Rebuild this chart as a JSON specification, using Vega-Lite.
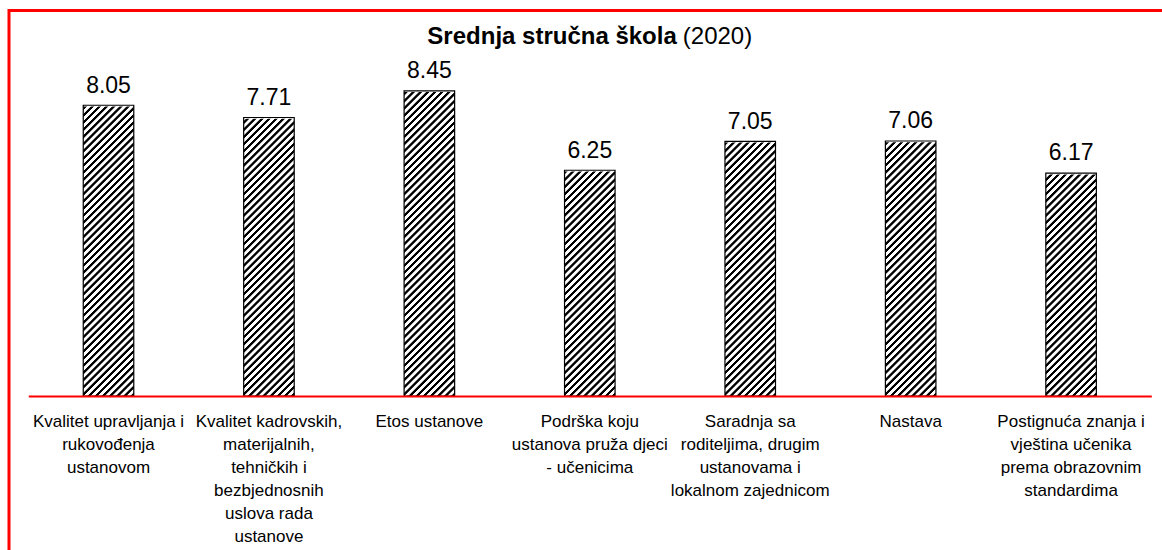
{
  "$schema": "https://vega.github.io/schema/vega-lite/v6.json",
  "autosize": "none",
  "padding": {"left": 9, "top": 10.5, "right": -12, "bottom": -8.5},
  "width": 1165,
  "height": 548,
  "background": "white",
  "config": {
    "font": "Liberation Sans",
    "view": {"stroke": "#ff0000", "strokeWidth": 3, "fill": "white"}
  },
  "data": {
    "values": [
      {"kriterij": "Kvalitet upravljanja i\nrukovođenja\nustanovom", "vrijednost": 8.05},
      {"kriterij": "Kvalitet kadrovskih,\nmaterijalnih,\ntehničkih i\nbezbjednosnih\nuslova rada\nustanove", "vrijednost": 7.71},
      {"kriterij": "Etos ustanove", "vrijednost": 8.45},
      {"kriterij": "Podrška koju\nustanova pruža djeci\n- učenicima", "vrijednost": 6.25},
      {"kriterij": "Saradnja sa\nroditeljima, drugim\nustanovama i\nlokalnom zajednicom", "vrijednost": 7.05},
      {"kriterij": "Nastava", "vrijednost": 7.06},
      {"kriterij": "Postignuća znanja i\nvještina učenika\nprema obrazovnim\nstandardima", "vrijednost": 6.17}
    ]
  },
  "encoding": {
    "x": {
      "field": "kriterij",
      "type": "nominal",
      "sort": null,
      "scale": {"range": [19.3, 1142.3], "paddingInner": 0.685, "paddingOuter": 0.3425},
      "axis": {
        "title": null,
        "domain": true,
        "domainColor": "#ff0000",
        "domainWidth": 2,
        "ticks": false,
        "tickSize": 0,
        "labelPadding": 17,
        "labelFont": "Liberation Sans",
        "labelFontSize": 17,
        "labelColor": "#000000",
        "labelLineHeight": 23,
        "labelAngle": 0,
        "labelAlign": "center",
        "labelBaseline": "top",
        "labelLimit": 400,
        "labelOverlap": false,
        "labelExpr": "split(datum.label, '\\n')",
        "offset": -162.5,
        "zindex": 1,
        "grid": false
      }
    }
  },
  "layer": [
    {
      "mark": {
        "type": "bar",
        "strokeWidth": 0,
        "fill": {
          "gradient": "linear",
          "x1": 0, "y1": 0, "x2": 0.18651, "y2": 1.13381,
          "stops": [
            {"offset": 0, "color": "#fff"}, {"offset": 0.009, "color": "#fff"}, {"offset": 0.011, "color": "#000"}, {"offset": 0.018, "color": "#000"},
            {"offset": 0.02, "color": "#fff"}, {"offset": 0.029, "color": "#fff"}, {"offset": 0.031, "color": "#000"}, {"offset": 0.038, "color": "#000"},
            {"offset": 0.04, "color": "#fff"}, {"offset": 0.049, "color": "#fff"}, {"offset": 0.051, "color": "#000"}, {"offset": 0.058, "color": "#000"},
            {"offset": 0.06, "color": "#fff"}, {"offset": 0.069, "color": "#fff"}, {"offset": 0.071, "color": "#000"}, {"offset": 0.078, "color": "#000"},
            {"offset": 0.08, "color": "#fff"}, {"offset": 0.089, "color": "#fff"}, {"offset": 0.091, "color": "#000"}, {"offset": 0.098, "color": "#000"},
            {"offset": 0.1, "color": "#fff"}, {"offset": 0.109, "color": "#fff"}, {"offset": 0.111, "color": "#000"}, {"offset": 0.118, "color": "#000"},
            {"offset": 0.12, "color": "#fff"}, {"offset": 0.129, "color": "#fff"}, {"offset": 0.131, "color": "#000"}, {"offset": 0.138, "color": "#000"},
            {"offset": 0.14, "color": "#fff"}, {"offset": 0.149, "color": "#fff"}, {"offset": 0.151, "color": "#000"}, {"offset": 0.158, "color": "#000"},
            {"offset": 0.16, "color": "#fff"}, {"offset": 0.169, "color": "#fff"}, {"offset": 0.171, "color": "#000"}, {"offset": 0.178, "color": "#000"},
            {"offset": 0.18, "color": "#fff"}, {"offset": 0.189, "color": "#fff"}, {"offset": 0.191, "color": "#000"}, {"offset": 0.198, "color": "#000"},
            {"offset": 0.2, "color": "#fff"}, {"offset": 0.209, "color": "#fff"}, {"offset": 0.211, "color": "#000"}, {"offset": 0.218, "color": "#000"},
            {"offset": 0.22, "color": "#fff"}, {"offset": 0.229, "color": "#fff"}, {"offset": 0.231, "color": "#000"}, {"offset": 0.238, "color": "#000"},
            {"offset": 0.24, "color": "#fff"}, {"offset": 0.249, "color": "#fff"}, {"offset": 0.251, "color": "#000"}, {"offset": 0.258, "color": "#000"},
            {"offset": 0.26, "color": "#fff"}, {"offset": 0.269, "color": "#fff"}, {"offset": 0.271, "color": "#000"}, {"offset": 0.278, "color": "#000"},
            {"offset": 0.28, "color": "#fff"}, {"offset": 0.289, "color": "#fff"}, {"offset": 0.291, "color": "#000"}, {"offset": 0.298, "color": "#000"},
            {"offset": 0.3, "color": "#fff"}, {"offset": 0.309, "color": "#fff"}, {"offset": 0.311, "color": "#000"}, {"offset": 0.318, "color": "#000"},
            {"offset": 0.32, "color": "#fff"}, {"offset": 0.329, "color": "#fff"}, {"offset": 0.331, "color": "#000"}, {"offset": 0.338, "color": "#000"},
            {"offset": 0.34, "color": "#fff"}, {"offset": 0.349, "color": "#fff"}, {"offset": 0.351, "color": "#000"}, {"offset": 0.358, "color": "#000"},
            {"offset": 0.36, "color": "#fff"}, {"offset": 0.369, "color": "#fff"}, {"offset": 0.371, "color": "#000"}, {"offset": 0.378, "color": "#000"},
            {"offset": 0.38, "color": "#fff"}, {"offset": 0.389, "color": "#fff"}, {"offset": 0.391, "color": "#000"}, {"offset": 0.398, "color": "#000"},
            {"offset": 0.4, "color": "#fff"}, {"offset": 0.409, "color": "#fff"}, {"offset": 0.411, "color": "#000"}, {"offset": 0.418, "color": "#000"},
            {"offset": 0.42, "color": "#fff"}, {"offset": 0.429, "color": "#fff"}, {"offset": 0.431, "color": "#000"}, {"offset": 0.438, "color": "#000"},
            {"offset": 0.44, "color": "#fff"}, {"offset": 0.449, "color": "#fff"}, {"offset": 0.451, "color": "#000"}, {"offset": 0.458, "color": "#000"},
            {"offset": 0.46, "color": "#fff"}, {"offset": 0.469, "color": "#fff"}, {"offset": 0.471, "color": "#000"}, {"offset": 0.478, "color": "#000"},
            {"offset": 0.48, "color": "#fff"}, {"offset": 0.489, "color": "#fff"}, {"offset": 0.491, "color": "#000"}, {"offset": 0.498, "color": "#000"},
            {"offset": 0.5, "color": "#fff"}, {"offset": 0.509, "color": "#fff"}, {"offset": 0.511, "color": "#000"}, {"offset": 0.518, "color": "#000"},
            {"offset": 0.52, "color": "#fff"}, {"offset": 0.529, "color": "#fff"}, {"offset": 0.531, "color": "#000"}, {"offset": 0.538, "color": "#000"},
            {"offset": 0.54, "color": "#fff"}, {"offset": 0.549, "color": "#fff"}, {"offset": 0.551, "color": "#000"}, {"offset": 0.558, "color": "#000"},
            {"offset": 0.56, "color": "#fff"}, {"offset": 0.569, "color": "#fff"}, {"offset": 0.571, "color": "#000"}, {"offset": 0.578, "color": "#000"},
            {"offset": 0.58, "color": "#fff"}, {"offset": 0.589, "color": "#fff"}, {"offset": 0.591, "color": "#000"}, {"offset": 0.598, "color": "#000"},
            {"offset": 0.6, "color": "#fff"}, {"offset": 0.609, "color": "#fff"}, {"offset": 0.611, "color": "#000"}, {"offset": 0.618, "color": "#000"},
            {"offset": 0.62, "color": "#fff"}, {"offset": 0.629, "color": "#fff"}, {"offset": 0.631, "color": "#000"}, {"offset": 0.638, "color": "#000"},
            {"offset": 0.64, "color": "#fff"}, {"offset": 0.649, "color": "#fff"}, {"offset": 0.651, "color": "#000"}, {"offset": 0.658, "color": "#000"},
            {"offset": 0.66, "color": "#fff"}, {"offset": 0.669, "color": "#fff"}, {"offset": 0.671, "color": "#000"}, {"offset": 0.678, "color": "#000"},
            {"offset": 0.68, "color": "#fff"}, {"offset": 0.689, "color": "#fff"}, {"offset": 0.691, "color": "#000"}, {"offset": 0.698, "color": "#000"},
            {"offset": 0.7, "color": "#fff"}, {"offset": 0.709, "color": "#fff"}, {"offset": 0.711, "color": "#000"}, {"offset": 0.718, "color": "#000"},
            {"offset": 0.72, "color": "#fff"}, {"offset": 0.729, "color": "#fff"}, {"offset": 0.731, "color": "#000"}, {"offset": 0.738, "color": "#000"},
            {"offset": 0.74, "color": "#fff"}, {"offset": 0.749, "color": "#fff"}, {"offset": 0.751, "color": "#000"}, {"offset": 0.758, "color": "#000"},
            {"offset": 0.76, "color": "#fff"}, {"offset": 0.769, "color": "#fff"}, {"offset": 0.771, "color": "#000"}, {"offset": 0.778, "color": "#000"},
            {"offset": 0.78, "color": "#fff"}, {"offset": 0.789, "color": "#fff"}, {"offset": 0.791, "color": "#000"}, {"offset": 0.798, "color": "#000"},
            {"offset": 0.8, "color": "#fff"}, {"offset": 0.809, "color": "#fff"}, {"offset": 0.811, "color": "#000"}, {"offset": 0.818, "color": "#000"},
            {"offset": 0.82, "color": "#fff"}, {"offset": 0.829, "color": "#fff"}, {"offset": 0.831, "color": "#000"}, {"offset": 0.838, "color": "#000"},
            {"offset": 0.84, "color": "#fff"}, {"offset": 0.849, "color": "#fff"}, {"offset": 0.851, "color": "#000"}, {"offset": 0.858, "color": "#000"},
            {"offset": 0.86, "color": "#fff"}, {"offset": 0.869, "color": "#fff"}, {"offset": 0.871, "color": "#000"}, {"offset": 0.878, "color": "#000"},
            {"offset": 0.88, "color": "#fff"}, {"offset": 0.889, "color": "#fff"}, {"offset": 0.891, "color": "#000"}, {"offset": 0.898, "color": "#000"},
            {"offset": 0.9, "color": "#fff"}, {"offset": 0.909, "color": "#fff"}, {"offset": 0.911, "color": "#000"}, {"offset": 0.918, "color": "#000"},
            {"offset": 0.92, "color": "#fff"}, {"offset": 0.929, "color": "#fff"}, {"offset": 0.931, "color": "#000"}, {"offset": 0.938, "color": "#000"},
            {"offset": 0.94, "color": "#fff"}, {"offset": 0.949, "color": "#fff"}, {"offset": 0.951, "color": "#000"}, {"offset": 0.958, "color": "#000"},
            {"offset": 0.96, "color": "#fff"}, {"offset": 0.969, "color": "#fff"}, {"offset": 0.971, "color": "#000"}, {"offset": 0.978, "color": "#000"},
            {"offset": 0.98, "color": "#fff"}, {"offset": 0.989, "color": "#fff"}, {"offset": 0.991, "color": "#000"}, {"offset": 0.998, "color": "#000"},
            {"offset": 1, "color": "#fff"}
          ]
        }
      },
      "encoding": {
        "y": {"datum": 8.5, "type": "quantitative", "scale": {"domain": [-4.499, 10.673], "nice": false, "zero": false}, "axis": null},
        "y2": {"datum": 0}
      }
    },
    {
      "mark": {"type": "bar", "fill": "#ffffff", "stroke": "#ffffff", "strokeWidth": 2.5},
      "encoding": {
        "y": {"field": "vrijednost", "type": "quantitative", "axis": null},
        "y2": {"datum": 8.6}
      }
    },
    {
      "mark": {"type": "bar", "fillOpacity": 0, "stroke": "#000000", "strokeWidth": 1.2},
      "encoding": {
        "y": {"field": "vrijednost", "type": "quantitative", "axis": null},
        "y2": {"datum": 0}
      }
    },
    {
      "mark": {"type": "text", "baseline": "alphabetic", "dy": -12.7, "fontSize": 23, "font": "Liberation Sans", "color": "#000000"},
      "encoding": {
        "y": {"field": "vrijednost", "type": "quantitative", "axis": null},
        "text": {"field": "vrijednost", "type": "quantitative", "format": ".2f"}
      }
    },
    {
      "data": {"values": [{"naslov": "Srednja stručna škola", "godina": "(2020)"}]},
      "mark": {"type": "text", "align": "right", "baseline": "alphabetic", "dx": 87, "fontSize": 24, "fontWeight": "bold", "font": "Liberation Sans", "color": "#000000"},
      "encoding": {
        "x": {"datum": "Podrška koju\nustanova pruža djeci\n- učenicima"},
        "y": {"datum": 9.737, "type": "quantitative", "axis": null},
        "text": {"field": "naslov", "type": "nominal"}
      }
    },
    {
      "data": {"values": [{"naslov": "Srednja stručna škola", "godina": "(2020)"}]},
      "mark": {"type": "text", "align": "left", "baseline": "alphabetic", "dx": 93, "fontSize": 24, "font": "Liberation Sans", "color": "#000000"},
      "encoding": {
        "x": {"datum": "Podrška koju\nustanova pruža djeci\n- učenicima"},
        "y": {"datum": 9.737, "type": "quantitative", "axis": null},
        "text": {"field": "godina", "type": "nominal"}
      }
    }
  ]
}
